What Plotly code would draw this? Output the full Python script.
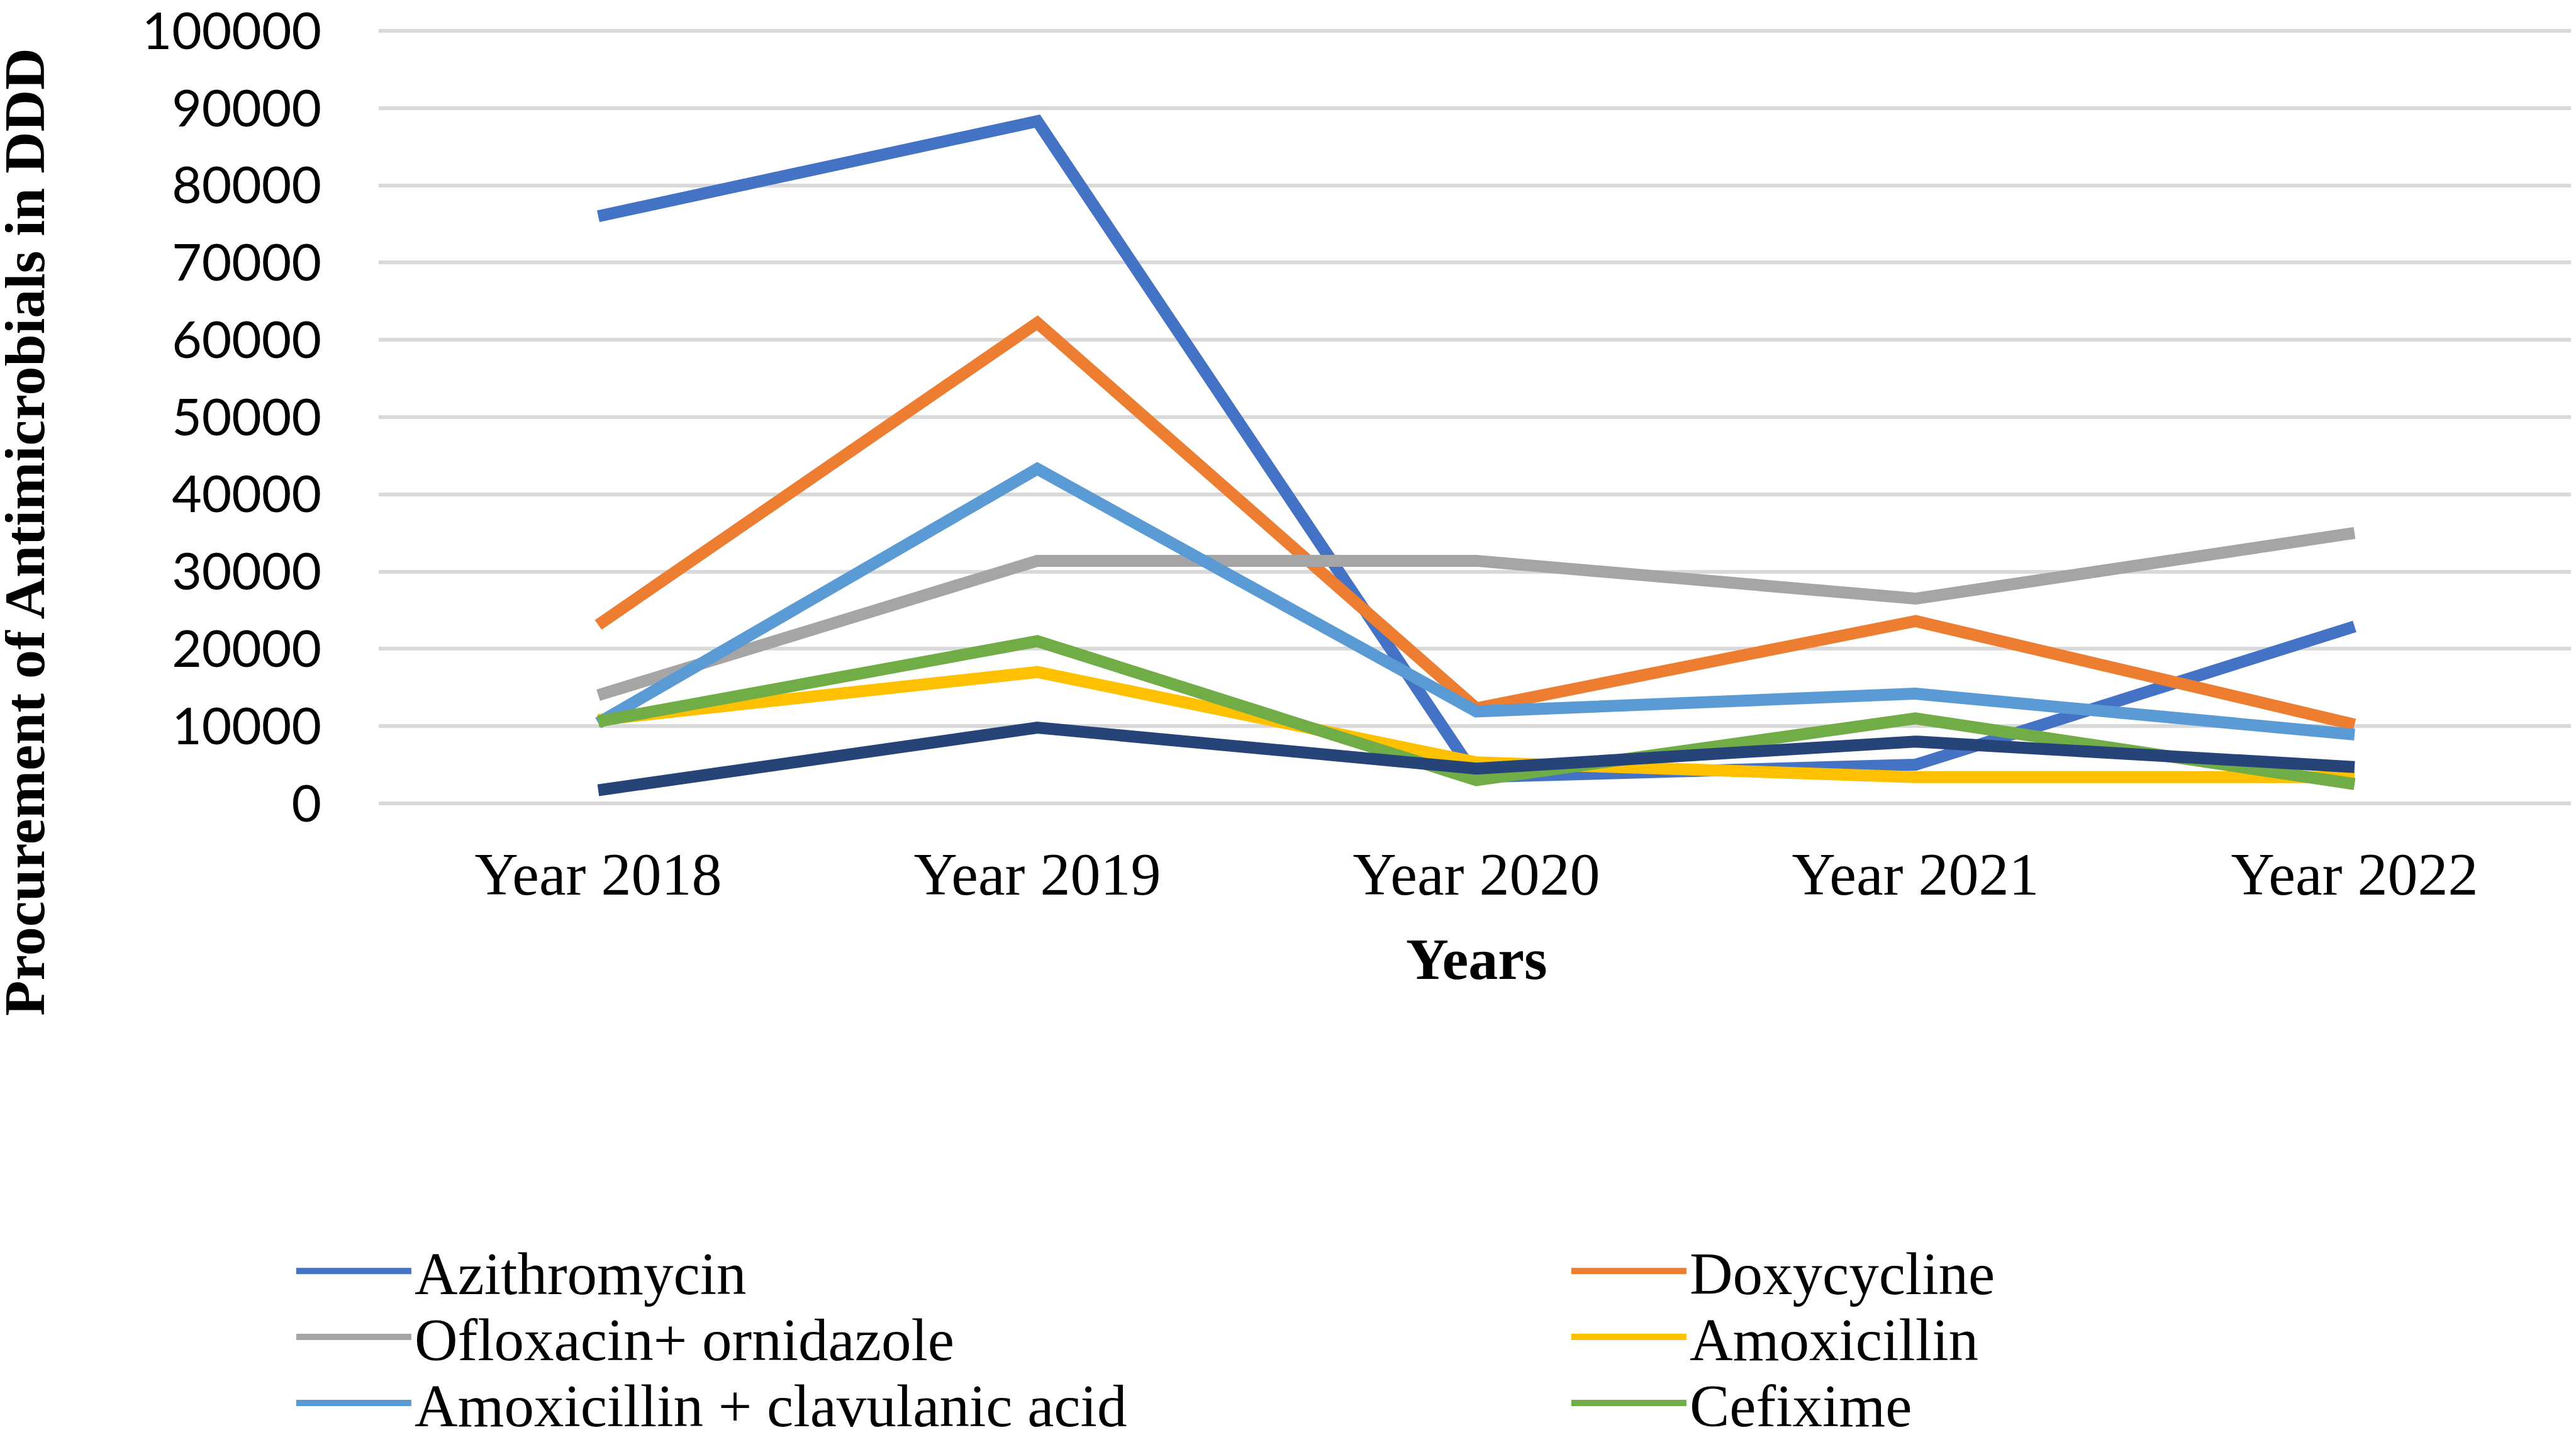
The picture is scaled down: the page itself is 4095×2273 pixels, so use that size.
import plotly.graph_objects as go

# data
years = ['Year 2018', 'Year 2019', 'Year 2020', 'Year 2021', 'Year 2022']

azithromycin = [76000, 88300, 3400, 5000, 22900]
doxycycline = [23100, 62200, 12300, 23600, 10200]
ofloxacin_ornidazole = [14000, 31400, 31400, 26500, 35000]
amoxicillin = [10800, 17000, 5300, 3400, 3400]
amox_clav = [10400, 43300, 11900, 14200, 8900]
cefixime = [10600, 21000, 3000, 11000, 2500]
seventh_drug = [1700, 9800, 4500, 8000, 4700]  # its legend entry is cut off in the original

# name, values, colour, legend row (None = not in legend)
series = [
    ('Azithromycin', azithromycin, '#4472C4', 'legend'),
    ('Doxycycline', doxycycline, '#ED7D31', 'legend'),
    ('Ofloxacin+ ornidazole', ofloxacin_ornidazole, '#A5A5A5', 'legend2'),
    ('Amoxicillin', amoxicillin, '#FFC000', 'legend2'),
    ('Amoxicillin + clavulanic acid', amox_clav, '#5B9BD5', 'legend3'),
    ('Cefixime', cefixime, '#70AD47', 'legend3'),
    ('Other', seventh_drug, '#264478', None),
]

W, H = 4095, 2273
L, R, T, B = 594, 11, 38, 1001

fig = go.Figure()
for name, vals, color, leg in series:
    fig.add_trace(go.Scatter(
        x=years, y=vals, name=name, mode='lines',
        line=dict(color=color, width=19),
        showlegend=leg is not None,
        legend=leg or 'legend',
    ))

# one horizontal legend per row, two columns each
def legend_row(y):
    return dict(
        orientation='h',
        x=-0.039, xanchor='left',
        y=y, yanchor='middle',
        font=dict(family='Liberation Serif', size=95, color='black'),
        itemwidth=183,
        entrywidth=1829, entrywidthmode='pixels',
        traceorder='normal',
        bgcolor='rgba(0,0,0,0)',
    )

fig.update_layout(
    width=W, height=H,
    margin=dict(l=L, r=R, t=T, b=B, autoexpand=False),
    plot_bgcolor='white',
    paper_bgcolor='white',
    font=dict(family='Liberation Serif', color='black'),
    legend=legend_row(-0.6000),
    legend2=legend_row(-0.6850),
    legend3=legend_row(-0.7700),
    annotations=[
        dict(text='<b>Procurement of Antimicrobials in DDD</b>',
             xref='paper', yref='paper', x=-0.1613, y=0.352,
             xanchor='center', yanchor='middle',
             textangle=-90, showarrow=False,
             font=dict(family='Liberation Serif', size=92, color='black')),
        dict(text='<b>Years</b>',
             xref='paper', yref='paper', x=0.5, y=-0.1975,
             xanchor='center', yanchor='middle',
             showarrow=False,
             font=dict(family='Liberation Serif', size=94, color='black')),
    ],
)

fig.update_xaxes(
    type='category', range=[-0.5, 4.5],
    showgrid=False, showline=False, zeroline=False,
    ticks='outside', ticklen=0, ticklabelstandoff=26,
    tickfont=dict(family='Liberation Serif', size=96, color='black'),
)
fig.update_yaxes(
    range=[-250, 100250], dtick=10000,
    showgrid=True, gridcolor='#D9D9D9', gridwidth=6,
    zeroline=False, showline=False,
    tickformat='d', ticklabelstandoff=90, ticklabeloverflow='allow',
    tickfont=dict(family='Lato', size=82, color='black'),
)

fig.write_html("out.html")
